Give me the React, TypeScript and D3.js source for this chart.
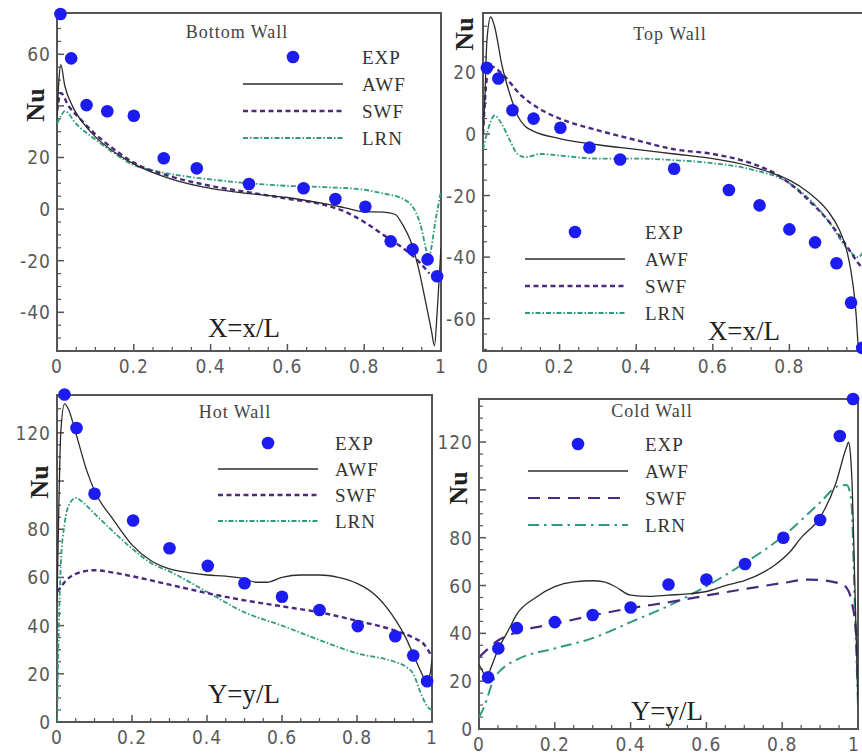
import React from 'react';
import * as d3 from 'd3';

// ---------------- DATA ----------------
// Bottom wall
const bottomExpX = [0.009, 0.037, 0.077, 0.131, 0.2, 0.278, 0.364, 0.5, 0.642, 0.725, 0.803, 0.869, 0.926, 0.965, 0.99];
const bottomExpNu = [75.6, 58.4, 40.3, 37.9, 36.2, 19.7, 15.8, 9.7, 8.1, 3.9, 0.9, -12.5, -15.6, -19.5, -26];
const bottomAwfX = [0, 0.005, 0.01, 0.02, 0.04, 0.07, 0.1, 0.15, 0.2, 0.3, 0.4, 0.5, 0.6, 0.7, 0.75, 0.8, 0.85, 0.88, 0.9, 0.92, 0.94, 0.96, 0.975, 0.983, 0.99, 1.0];
const bottomAwfNu = [35, 50, 56, 48, 40, 33, 28, 22, 17.5, 11.5, 8, 6, 4.5, 2, 0.5, -1, -1.2, -2, -6, -12, -22, -36, -47, -53, -40, -15];
const bottomSwfX = [0, 0.01, 0.03, 0.06, 0.1, 0.15, 0.2, 0.3, 0.4, 0.5, 0.6, 0.7, 0.75, 0.8, 0.85, 0.9, 0.94, 0.97];
const bottomSwfNu = [38, 45, 40, 35, 29, 23, 18, 12.5, 9, 6.5, 4, 1.5, -1, -5, -10, -15, -20, -25];
const bottomLrnX = [0, 0.01, 0.02, 0.05, 0.1, 0.15, 0.2, 0.25, 0.3, 0.4, 0.5, 0.6, 0.7, 0.8, 0.85, 0.9, 0.93, 0.95, 0.96, 0.968, 0.975, 0.985, 0.995, 1.0];
const bottomLrnNu = [33, 36, 38, 33, 27, 21.5, 17, 15, 13.5, 11.5, 10, 9, 8.5, 7.5, 6, 4, 0, -8, -15, -19, -15, -5, 3, 7];

// Top wall
const topExpX = [0.01, 0.04, 0.077, 0.132, 0.202, 0.278, 0.358, 0.499, 0.642, 0.722, 0.8, 0.867, 0.923, 0.961, 0.99];
const topExpNu = [21.5, 18, 7.7, 5, 2, -4.4, -8.3, -11.3, -18.2, -23.2, -31, -35.2, -42, -54.8, -69.5];
const topAwfX = [0, 0.005, 0.01, 0.02, 0.03, 0.05, 0.07, 0.09, 0.11, 0.13, 0.2, 0.3, 0.4, 0.5, 0.6, 0.7, 0.75, 0.8, 0.85, 0.9, 0.93, 0.95, 0.96, 0.97, 0.975, 0.98];
const topAwfNu = [0, 12, 30, 38, 35, 22, 13, 6, 2.5, 1, -1.5, -3.5, -5, -6.5, -8, -10.5, -12.5, -15, -19, -25, -31, -38, -44, -53, -60, -70];
const topSwfX = [0, 0.01, 0.02, 0.05, 0.1, 0.15, 0.2, 0.3, 0.4, 0.5, 0.6, 0.7, 0.75, 0.8, 0.85, 0.9, 0.95, 0.98, 1.0];
const topSwfNu = [0, 18, 22, 19.5, 12.5, 8, 5, 1.2, -2, -5, -6.5, -9.5, -12, -16, -21.5, -28, -36.5, -42, -45];
const topLrnX = [0, 0.01, 0.02, 0.03, 0.05, 0.07, 0.09, 0.11, 0.15, 0.2, 0.3, 0.4, 0.5, 0.6, 0.7, 0.8, 0.85, 0.9, 0.95, 0.98, 1.0];
const topLrnNu = [-5, 0, 4, 6, 3, -2, -6.5, -7.5, -6.5, -7, -8, -8, -8.5, -9.5, -11.5, -16, -21, -28, -37, -40, -36];

// Hot wall
const hotExpY = [0.02, 0.052, 0.1, 0.203, 0.3, 0.402, 0.5, 0.6, 0.7, 0.802, 0.902, 0.95, 0.987];
const hotExpNu = [135.9, 122, 94.7, 83.6, 72.1, 64.8, 57.6, 52, 46.5, 39.8, 35.6, 27.6, 16.9];
const hotAwfY = [0, 0.005, 0.01, 0.02, 0.03, 0.05, 0.08, 0.1, 0.15, 0.2, 0.25, 0.3, 0.35, 0.4, 0.45, 0.5, 0.53, 0.56, 0.6, 0.65, 0.7, 0.75, 0.8, 0.85, 0.9, 0.93, 0.95, 0.97, 0.985, 0.995, 1.0];
const hotAwfNu = [50, 90, 120, 132, 130, 120, 104, 96, 84, 73.5, 67, 63.5, 62, 61, 60.5, 59.5, 58, 58, 60, 61, 61, 60, 57.5, 52.5, 43, 35, 28, 21, 17, 20, 26];
const hotSwfY = [0, 0.01, 0.02, 0.05, 0.1, 0.15, 0.2, 0.3, 0.4, 0.5, 0.6, 0.7, 0.8, 0.9, 0.95, 0.98, 1.0];
const hotSwfNu = [54, 56, 58, 61.5, 63, 62, 60.5, 57, 53.5, 50.5, 48, 45.5, 42, 38, 35, 32, 27];
const hotLrnY = [0, 0.005, 0.01, 0.02, 0.035, 0.05, 0.07, 0.1, 0.15, 0.2, 0.25, 0.3, 0.4, 0.5, 0.6, 0.7, 0.8, 0.9, 0.93, 0.95, 0.97, 0.99, 1.0];
const hotLrnNu = [0, 40, 65, 82, 91, 93, 91, 86.5, 79, 72, 66, 62.5, 54, 45.5, 40, 34, 28.5, 25, 23, 20, 12, 6, 5];

// Cold wall
const coldExpY = [0.024, 0.051, 0.1, 0.2, 0.3, 0.4, 0.5, 0.6, 0.702, 0.803, 0.9, 0.952, 0.987];
const coldExpNu = [21.6, 33.7, 42.2, 44.7, 47.7, 50.8, 60.4, 62.5, 69, 80, 87.4, 122.5, 138];
const coldAwfY = [0, 0.01, 0.02, 0.03, 0.05, 0.08, 0.1, 0.15, 0.2, 0.25, 0.3, 0.33, 0.36, 0.4, 0.45, 0.5, 0.55, 0.6, 0.65, 0.7, 0.75, 0.78, 0.82, 0.85, 0.9, 0.94, 0.97, 0.975, 0.98, 0.985, 0.99, 1.0];
const coldAwfNu = [27, 24, 21, 25, 33, 42, 48, 55, 59.5, 61.5, 62, 61.5, 59.5, 56, 55.5, 56, 56.5, 57.5, 60, 62, 65.5, 68.5, 74, 80, 88.5, 102, 118, 120, 115, 100, 70, 10];
const coldSwfY = [0, 0.02, 0.05, 0.1, 0.2, 0.3, 0.4, 0.5, 0.6, 0.7, 0.8, 0.87, 0.95, 0.97, 0.985, 0.995, 1.0];
const coldSwfNu = [30, 33, 37, 40.5, 44, 47.5, 50.5, 53, 55.8, 58.5, 61, 62.5, 61, 59, 52, 40, 20];
const coldLrnY = [0, 0.01, 0.02, 0.03, 0.04, 0.06, 0.1, 0.2, 0.3, 0.4, 0.5, 0.6, 0.7, 0.8, 0.9, 0.947, 0.97, 0.98, 0.985, 0.99, 1.0];
const coldLrnNu = [5, 8, 12, 17, 21, 25, 29, 33.7, 38, 44.7, 51.5, 59.7, 69.3, 80.3, 94.7, 101.5, 102, 98, 88, 60, 10];

// Tick labels
const xTickLabels = [0, 0.2, 0.4, 0.6, 0.8, 1];
const bottomYLabels = [60, 20, 0, -20, -40];
const topYLabels = [20, 0, -20, -40, -60];
const hotYLabels = [120, 80, 60, 40, 20, 0];
const coldYLabels = [120, 80, 60, 40, 20, 0];
const legendNames = ['EXP', 'AWF', 'SWF', 'LRN'];
const titles = ['Bottom Wall', 'Top Wall', 'Hot Wall', 'Cold Wall'];
const axisNames = ['X=x/L', 'X=x/L', 'Y=y/L', 'Y=y/L'];

// ---------------- STYLES / LAYOUT ----------------
const SVG_W = 862;
const SVG_H = 755;
const SERIF = "'Liberation Serif', 'Times New Roman', serif";
const NARROW = "'Liberation Sans Narrow', 'DejaVu Sans Condensed', 'Liberation Sans', sans-serif";
const FRAME = '#555';
const EXP_COLOR = '#1c1cf0';
const AWF_COLOR = '#2b2b2b';
const SWF_COLOR = '#4a2a7e';
const LRN_COLOR = '#2f9a80';

type LineStyle = { stroke: string; width: number; dash: string };

interface PanelCfg {
  left: number; right: number; top: number; bottom: number;
  yDomain: [number, number];
  yLabels: number[];
  xLabels: number[];
  exp: [number[], number[]];
  awf: [number[], number[]];
  swf: [number[], number[]];
  lrn: [number[], number[]];
  swfStyle: LineStyle; lrnStyle: LineStyle;
  title: string; titlePos: [number, number];
  legend: { x0: number; x1: number; y0: number; dy: number; tx: number };
  axisName: string; axisNamePos: [number, number];
  nuPos: [number, number];
  minorY: number;
}

const swfStd: LineStyle = { stroke: SWF_COLOR, width: 2.4, dash: '5,3.5' };
const lrnStd: LineStyle = { stroke: LRN_COLOR, width: 1.8, dash: '5,2,1.5,2' };
const swfCold: LineStyle = { stroke: SWF_COLOR, width: 2.2, dash: '12,8' };
const lrnCold: LineStyle = { stroke: LRN_COLOR, width: 2, dash: '11,5,2.5,5' };

const panels: PanelCfg[] = [
  {
    left: 57, right: 441, top: 13, bottom: 351, yDomain: [-55, 76],
    yLabels: bottomYLabels, xLabels: xTickLabels,
    exp: [bottomExpX, bottomExpNu], awf: [bottomAwfX, bottomAwfNu], swf: [bottomSwfX, bottomSwfNu], lrn: [bottomLrnX, bottomLrnNu],
    swfStyle: swfStd, lrnStyle: lrnStd,
    title: titles[0], titlePos: [237, 38],
    legend: { x0: 243, x1: 343, y0: 57, dy: 27, tx: 362 },
    axisName: axisNames[0], axisNamePos: [244, 337], nuPos: [35, 105], minorY: 5,
  },
  {
    left: 483, right: 866, top: 13, bottom: 351, yDomain: [-70.5, 39.3],
    yLabels: topYLabels, xLabels: xTickLabels.slice(0, 5),
    exp: [topExpX, topExpNu], awf: [topAwfX, topAwfNu], swf: [topSwfX, topSwfNu], lrn: [topLrnX, topLrnNu],
    swfStyle: swfStd, lrnStyle: lrnStd,
    title: titles[1], titlePos: [670, 40],
    legend: { x0: 525, x1: 625, y0: 232, dy: 27, tx: 645 },
    axisName: axisNames[1], axisNamePos: [744, 340], nuPos: [464, 34], minorY: 5,
  },
  {
    left: 57, right: 432, top: 395, bottom: 722, yDomain: [0, 135.7],
    yLabels: hotYLabels, xLabels: xTickLabels,
    exp: [hotExpY, hotExpNu], awf: [hotAwfY, hotAwfNu], swf: [hotSwfY, hotSwfNu], lrn: [hotLrnY, hotLrnNu],
    swfStyle: swfStd, lrnStyle: lrnStd,
    title: titles[2], titlePos: [235, 418],
    legend: { x0: 218, x1: 318, y0: 443, dy: 26, tx: 335 },
    axisName: axisNames[2], axisNamePos: [244, 703], nuPos: [39, 482], minorY: 5,
  },
  {
    left: 479, right: 858, top: 399, bottom: 729, yDomain: [0, 138],
    yLabels: coldYLabels, xLabels: xTickLabels,
    exp: [coldExpY, coldExpNu], awf: [coldAwfY, coldAwfNu], swf: [coldSwfY, coldSwfNu], lrn: [coldLrnY, coldLrnNu],
    swfStyle: swfCold, lrnStyle: lrnCold,
    title: titles[3], titlePos: [652, 417],
    legend: { x0: 528, x1: 628, y0: 444, dy: 27, tx: 645 },
    axisName: axisNames[3], axisNamePos: [667, 720], nuPos: [458, 488], minorY: 5,
  },
];

function zip(a: [number[], number[]]): [number, number][] {
  return a[0].map((x, i) => [x, a[1][i]] as [number, number]);
}

function Panel({ cfg, idx }: { cfg: PanelCfg; idx: number }) {
  const xs = d3.scaleLinear().domain([0, 1]).range([cfg.left, cfg.right]);
  const ys = d3.scaleLinear().domain(cfg.yDomain).range([cfg.bottom, cfg.top]);
  const line = d3.line<[number, number]>().x(d => xs(d[0])).y(d => ys(d[1])).curve(d3.curveMonotoneX);
  const clipId = `clip-${idx}`;

  const xMajor = d3.range(0, 1.0001, 0.2);
  const xMinor = d3.range(0, 1.0001, 0.05).filter(v => Math.abs(v / 0.2 - Math.round(v / 0.2)) > 1e-6);
  const [y0, y1] = cfg.yDomain;
  const yMajor = d3.range(Math.ceil(y0 / 20) * 20, y1 + 1e-6, 20);
  const yMinor = d3.range(Math.ceil(y0 / cfg.minorY) * cfg.minorY, y1 + 1e-6, cfg.minorY).filter(v => v % 20 !== 0);

  const series: { d: [number, number][]; st: LineStyle }[] = [
    { d: zip(cfg.lrn), st: cfg.lrnStyle },
    { d: zip(cfg.swf), st: cfg.swfStyle },
    { d: zip(cfg.awf), st: { stroke: AWF_COLOR, width: 1.3, dash: '' } },
  ];
  const legendStyles: LineStyle[] = [
    { stroke: AWF_COLOR, width: 1.3, dash: '' }, cfg.swfStyle, cfg.lrnStyle,
  ];
  const L = cfg.legend;

  return (
    <g>
      <defs>
        <clipPath id={clipId}>
          <rect x={cfg.left} y={cfg.top} width={cfg.right - cfg.left} height={cfg.bottom - cfg.top} />
        </clipPath>
      </defs>
      <rect x={cfg.left} y={cfg.top} width={cfg.right - cfg.left} height={cfg.bottom - cfg.top} fill="#fff" stroke={FRAME} strokeWidth={2} />
      {/* ticks */}
      {xMajor.map(v => <line key={'xM' + v} x1={xs(v)} x2={xs(v)} y1={cfg.bottom} y2={cfg.bottom - 7} stroke={FRAME} strokeWidth={1.5} />)}
      {xMinor.map(v => <line key={'xm' + v} x1={xs(v)} x2={xs(v)} y1={cfg.bottom} y2={cfg.bottom - 4} stroke={FRAME} strokeWidth={1.2} />)}
      {yMajor.map(v => <line key={'yM' + v} x1={cfg.left} x2={cfg.left + 7} y1={ys(v)} y2={ys(v)} stroke={FRAME} strokeWidth={1.5} />)}
      {yMinor.map(v => <line key={'ym' + v} x1={cfg.left} x2={cfg.left + 4} y1={ys(v)} y2={ys(v)} stroke={FRAME} strokeWidth={1.2} />)}
      {cfg.xLabels.map(v => (
        <text key={'xl' + v} x={Math.min(xs(v), SVG_W - 8)} y={cfg.bottom + 22} textAnchor="middle" fontFamily={NARROW} fontSize={19} letterSpacing={1} fill="#5a5a5a">{String(v)}</text>
      ))}
      {cfg.yLabels.map(v => (
        <text key={'yl' + v} x={cfg.left - 6} y={ys(v) + 7} textAnchor="end" fontFamily={NARROW} fontSize={19} letterSpacing={1} fill="#5a5a5a">{String(v)}</text>
      ))}
      {/* lines */}
      <g clipPath={`url(#${clipId})`}>
        {series.map((s, i) => (
          <path key={i} d={line(s.d) || ''} fill="none" stroke={s.st.stroke} strokeWidth={s.st.width} strokeDasharray={s.st.dash || undefined} />
        ))}
      </g>
      {/* experimental points */}
      {zip(cfg.exp).map((p, i) => (
        <circle key={'e' + i} cx={xs(p[0])} cy={ys(p[1])} r={6.3} fill={EXP_COLOR} />
      ))}
      {/* title */}
      <text x={cfg.titlePos[0]} y={cfg.titlePos[1]} textAnchor="middle" fontFamily={SERIF} fontSize={18} letterSpacing={1} fill="#444">{cfg.title}</text>
      {/* legend */}
      <circle cx={(L.x0 + L.x1) / 2} cy={L.y0} r={6.3} fill={EXP_COLOR} />
      {legendStyles.map((st, i) => (
        <line key={'lg' + i} x1={L.x0} x2={L.x1} y1={L.y0 + L.dy * (i + 1)} y2={L.y0 + L.dy * (i + 1)} stroke={st.stroke} strokeWidth={st.width} strokeDasharray={st.dash || undefined} />
      ))}
      {legendNames.map((n, i) => (
        <text key={'ln' + n} x={L.tx} y={L.y0 + L.dy * i + 7} fontFamily={SERIF} fontSize={19} letterSpacing={1} fill="#333">{n}</text>
      ))}
      {/* axis name */}
      <text x={cfg.axisNamePos[0]} y={cfg.axisNamePos[1]} textAnchor="middle" fontFamily={SERIF} fontSize={27} fill="#222">{cfg.axisName}</text>
      {/* Nu */}
      <text transform={`translate(${cfg.nuPos[0] + 9},${cfg.nuPos[1]}) rotate(-90)`} textAnchor="middle" fontFamily={SERIF} fontWeight="bold" fontSize={26} fill="#222">Nu</text>
    </g>
  );
}

export default function App() {
  return (
    <svg width={SVG_W} height={SVG_H} viewBox={`0 0 ${SVG_W} ${SVG_H}`} style={{ position: 'absolute', left: 0, top: 0, background: '#fff' }}>
      <rect x={0} y={0} width={SVG_W} height={SVG_H} fill="#fff" />
      {panels.map((p, i) => <Panel key={i} cfg={p} idx={i} />)}
    </svg>
  );
}
